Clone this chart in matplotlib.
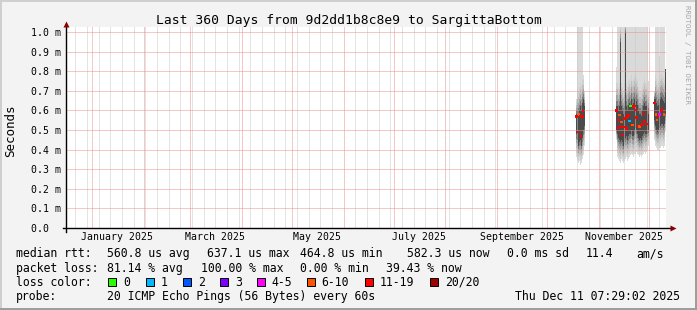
import matplotlib
matplotlib.use("Agg")
import matplotlib.pyplot as plt
import matplotlib.dates as mdates
from matplotlib.lines import Line2D
from matplotlib.patches import Rectangle
import numpy as np
from datetime import datetime, timedelta

# --- graph window -------------------------------------------------------
end_time = datetime(2025, 12, 11, 7, 29, 2)
span_days = 360
step_days = 0.6          # one consolidated rrd row per pixel column

title = "Last 360 Days from 9d2dd1b8c8e9 to SargittaBottom"
y_label = "Seconds"
ytick_vals = [0.0, 0.1, 0.2, 0.3, 0.4, 0.5, 0.6, 0.7, 0.8, 0.9, 1.0]
month_labels = ["January 2025", "March 2025", "May 2025", "July 2025",
                "September 2025", "November 2025"]

# --- smoke (ms), three segments with data, offsets in days since graph start
seg_start = [305.8, 329.8, 352.6]
smoke_lo = [
    [.36, .34, .33, .34, .32, .33, .35, .37, .42],
    [.45, .36, .35, .34, .33, .35, .34, .33, .34, .35, .36, .34, .35, .36, .37, .38, .37,
     .36, .38, .38, .39, .38, .37, .36, .37, .36, .37, .38, .39, .38, .39, .40, .42],
    [.45, .42, .41, .40, .40, .41, .41, .42, .42, .41, .42, .50],
]
core_lo = [
    [.48, .45, .42, .44, .45, .42, .46, .50, .52],
    [.50, .48, .46, .45, .44, .45, .44, .42, .45, .46, .47, .45, .47, .48, .48, .50, .47,
     .47, .50, .51, .50, .48, .46, .45, .46, .45, .47, .48, .49, .48, .48, .48, .50],
    [.55, .52, .50, .49, .50, .51, .52, .53, .53, .52, .53, .58],
]
core_hi = [
    [.58, .60, .58, .60, .62, .60, .64, .66, .62],
    [.62, .62, .60, .62, .95, .62, .60, .58, .62, 1.0, .62, .60, .63, .64, .62, .66, .63,
     .64, .66, .67, .65, .63, .60, .58, .58, .57, .60, .62, .64, .62, .62, .60, .58],
    [.66, .66, .64, .62, .63, .64, .66, .67, .66, .65, .64, .81],
]
smoke_hi = [
    [.66, 1.05, 1.05, 1.05, 1.05, 1.05, 1.05, .78, .70],
    [.82] + [1.05] * 31 + [.75],
    [.70, 1.05, 1.05, 1.05, 1.05, .88, 1.05, 1.05, 1.05, 1.05, 1.05, .81],
]

# --- median rtt (ms) and lost pings out of 20 -----------------------------
median_day = [306.2, 307.2, 307.9, 308.5, 309.0, 309.9, 310.3,
              330.4, 331.0, 331.6, 332.2, 332.8, 333.4, 334.0, 334.6, 335.2, 335.8,
              336.4, 337.0, 337.6, 338.2, 338.8, 339.4, 340.0, 340.6, 341.2, 341.8,
              342.4, 343.0, 344.2, 345.4, 346.0, 346.6, 347.2, 348.4,
              353.0, 353.9, 354.5, 355.1, 356.2, 357.1, 357.7, 358.8]
median_ms = [.568, .490, .580, .571, .466, .568, .598,
             .600, .510, .551, .577, .514, .540, .474, .515, .558, .561,
             .507, .568, .578, .545, .622, .527, .526, .619, .622, .602,
             .563, .520, .517, .527, .531, .583, .546, .531,
             .639, .580, .551, .565, .580, .598, .605, .580]
median_loss = [14, 15, 8, 13, 16, 14, 12,
               13, 15, 14, 8, 16, 9, 17, 14, 12, 13,
               15, 14, 12, 1, 0, 15, 7, 13, 12, 14,
               13, 16, 9, 14, 15, 12, 13, 16,
               14, 9, 8, 12, 5, 13, 12, 10]

# --- legend block -------------------------------------------------------
rtt_stats = ["560.8 us avg", "637.1 us max", "464.8 us min", "582.3 us now",
             "0.0 ms sd", "11.4", "am/s"]
loss_stats = ["81.14 % avg", "100.00 % max", "0.00 % min", "39.43 % now"]
loss_names = ["0", "1", "2", "3", "4-5", "6-10", "11-19", "20/20"]
loss_cols = ["#26ff00", "#00b8ff", "#0059ff", "#7e00ff", "#ff00ff",
             "#ff5500", "#ff0000", "#a10000"]
probe_text = "20 ICMP Echo Pings (56 Bytes) every 60s"
stamp_text = "Thu Dec 11 07:29:02 2025"


def loss_color(n):
    if n >= 20:
        return loss_cols[7]
    if n >= 11:
        return loss_cols[6]
    if n >= 6:
        return loss_cols[5]
    if n >= 4:
        return loss_cols[4]
    return loss_cols[n]


W, H = 697, 310
def fx(px):
    return px / W
def fy(py):
    return 1 - py / H

plt.rcParams['font.family'] = 'DejaVu Sans Mono'

fig = plt.figure(figsize=(W / 100, H / 100), dpi=100)
fig.patch.set_facecolor('#f3f3f3')

# plot area on whole pixels so the 1px dotted grid stays crisp
left, right, top, bottom = 66, 666, 27, 228
ax = fig.add_axes([fx(left), fy(bottom), (right - left) / W, (bottom - top) / H])
ax.set_facecolor('white')

start_time = end_time - timedelta(days=span_days)
t0 = mdates.date2num(start_time)
ax.set_xlim(t0, mdates.date2num(end_time))
ax.set_ylim(0, 1.0 * (bottom - top) / 196.0)

# smoke: light full range, then darker nested bands toward the core
greys = ['#dadada', '#d0d0d0', '#bebebe', '#a2a2a2', '#7c7c7c', '#4a4a4a']
fracs = [0.8, 0.6, 0.4, 0.2, 0.0]
for s0, lo, clo, chi, hi in zip(seg_start, smoke_lo, core_lo, core_hi, smoke_hi):
    lo, clo, chi, hi = (np.array(v) for v in (lo, clo, chi, hi))
    x = t0 + s0 + step_days * np.arange(len(lo))
    ax.bar(x, hi - lo, bottom=lo, width=step_days, align='edge',
           color=greys[0], linewidth=0, antialiased=False, zorder=1)
    for k, f in enumerate(fracs):
        b = clo - f * (clo - lo)
        t = chi + f * np.minimum(hi - chi, 0.15)
        ax.bar(x, t - b, bottom=b, width=step_days, align='edge',
               color=greys[k + 1], linewidth=0, antialiased=False, zorder=1)

# median dots coloured by loss
ax.scatter(t0 + np.array(median_day), median_ms, marker='s', s=3,
           c=[loss_color(n) for n in median_loss], linewidths=0, zorder=4)

# grid
ax.xaxis.set_major_locator(mdates.MonthLocator())
ax.xaxis.set_minor_locator(mdates.WeekdayLocator(byweekday=mdates.SU))
ax.set_yticks(ytick_vals)
ax.set_yticklabels([f"{v:.1f} m" if v else "0.0  " for v in ytick_vals])
ax.xaxis.set_major_formatter(plt.NullFormatter())
ax.grid(which='minor', axis='x', color='#c8c8c8', lw=0.72, ls=(0, (1, 1)))
ax.grid(which='major', axis='x', color='#ee9090', lw=0.72, ls=(0, (1, 1)))
ax.grid(which='major', axis='y', color='#ee9090', lw=0.72, ls=(0, (1, 1)))
ax.set_axisbelow(False)
ax.tick_params(which='both', length=0)
ax.tick_params(axis='y', labelsize=7.1, pad=3.8)
for s in ax.spines.values():
    s.set_visible(False)

# month labels centred half a month after the month start
for lab in month_labels:
    d = datetime.strptime(lab, "%B %Y") + timedelta(days=15)
    ax.text(mdates.date2num(d), (bottom - 240) / (bottom - top), lab,
            transform=ax.get_xaxis_transform(), ha='center', va='baseline',
            fontsize=7.1)

# axis lines with arrows
ax.add_line(Line2D([-3 / 600, 1.008], [0, 0], transform=ax.transAxes,
                   color='black', lw=1, clip_on=False, zorder=5))
ax.add_line(Line2D([0, 0], [-4 / 201, 1.012], transform=ax.transAxes,
                   color='black', lw=1, clip_on=False, zorder=5))
ax.plot([1.0115], [0], marker='>', ms=4, color='#8a0000', mec='none',
        transform=ax.transAxes, clip_on=False, zorder=6)
ax.plot([0], [1.0165], marker='^', ms=4, color='#8a0000', mec='none',
        transform=ax.transAxes, clip_on=False, zorder=6)

# texts
fig.text(0.5, fy(24.3), title, ha='center', va='baseline', fontsize=9.4)
fig.text(fx(10.3), fy(131), y_label, rotation=90, ha='center', va='center',
         fontsize=9.0)
fig.text(fx(686.7), fy(5), "RRDTOOL / TOBI OETIKER", rotation=-90, ha='center',
         va='top', fontsize=5.4, color='#a8a8a8')

legend_fs = 8.3
fig.text(fx(16), fy(257.3), "median rtt:", fontsize=legend_fs, va='baseline')
for xp, s in zip([107.3, 207.3, 300, 407.3, 507.3, 586, 636], rtt_stats):
    fig.text(fx(xp), fy(257.3), s, fontsize=legend_fs, va='baseline')

fig.text(fx(16), fy(271.7), "packet loss:", fontsize=legend_fs, va='baseline')
for xp, s in zip([107.3, 200.7, 300, 386], loss_stats):
    fig.text(fx(xp), fy(271.7), s, fontsize=legend_fs, va='baseline')

fig.text(fx(16), fy(285.7), "loss color:", fontsize=legend_fs, va='baseline')
box_x = [108.3, 145.7, 182.7, 220, 256.7, 306.7, 365, 430]
for bx, name, col in zip(box_x, loss_names, loss_cols):
    fig.add_artist(Rectangle((fx(bx), fy(285.7)), 8 / W, 8 / H,
                             transform=fig.transFigure, facecolor=col,
                             edgecolor='black', lw=0.7))
    fig.text(fx(bx + 15), fy(285.7), name, fontsize=legend_fs, va='baseline')

fig.text(fx(16), fy(300), "probe:", fontsize=legend_fs, va='baseline')
fig.text(fx(107.3), fy(300), probe_text, fontsize=legend_fs, va='baseline')
fig.text(fx(680), fy(300), stamp_text, fontsize=legend_fs, va='baseline',
         ha='right')

# shaded border
for xs, ys, c in [([0, 1], [fy(1), fy(1)], '#cfcfcf'),
                  ([fx(1), fx(1)], [0, 1], '#cfcfcf'),
                  ([0, 1], [fy(H - 1), fy(H - 1)], '#9e9e9e'),
                  ([fx(W - 1), fx(W - 1)], [0, 1], '#9e9e9e')]:
    fig.add_artist(Line2D(xs, ys, transform=fig.transFigure, color=c, lw=1.44))

fig.savefig("out.png", dpi=100, facecolor=fig.get_facecolor())
